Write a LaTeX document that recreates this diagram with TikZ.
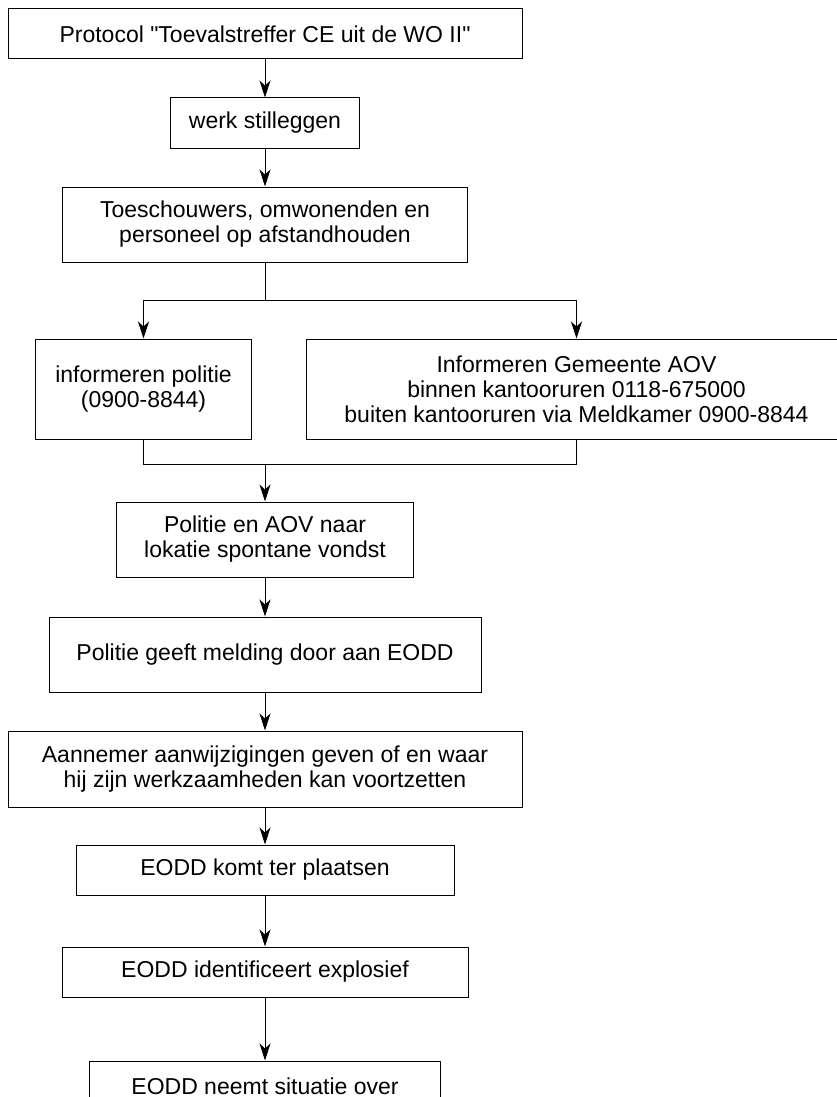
\documentclass[tikz,border=0pt]{standalone}
\usepackage{fontspec}
\setmainfont[Ligatures=TeXOff]{Liberation Sans}
\usetikzlibrary{positioning}
\usetikzlibrary{arrows.meta}

\begin{document}
\begin{tikzpicture}[x=1pt,y=-1pt,
        stap/.style={draw,line width=1pt,align=center,inner sep=0pt,font=\fontsize{23}{25}\selectfont},
        pijl/.style={-{Stealth[length=17pt,width=11pt,inset=5pt]},line width=1pt}]
        \useasboundingbox (0,0) rectangle (836,1097);

        \node[stap,minimum width=514pt,minimum height=50pt] (proto) at (265,34) {Protocol "Toevalstreffer CE uit de WO II"};
        \node[stap,minimum width=189pt,minimum height=50pt,below=38pt of proto] (stil) {werk stilleggen};
        \node[stap,minimum width=405pt,minimum height=75pt,below=38pt of stil] (toesch) {Toeschouwers, omwonenden en\\personeel op afstandhouden};

        \draw[pijl] (proto) -- (stil);
        \draw[pijl] (stil) -- (toesch);

        \node[stap,minimum width=216pt,minimum height=100pt,below=76pt of toesch,xshift=-121.5pt] (politie) {informeren politie\\(0900-8844)};
        \node[stap,minimum width=540pt,minimum height=100pt,right=54pt of politie] (gemeente) {Informeren Gemeente AOV\\binnen kantooruren 0118-675000\\buiten kantooruren via Meldkamer 0900-8844};

        \draw (toesch.south) -- ++(0,38) coordinate (splits);
        \draw[pijl] (splits) -| (politie);
        \draw[pijl] (splits) -| (gemeente);

        \node[stap,minimum width=297pt,minimum height=75pt,below=239pt of toesch] (lokatie) {Politie en AOV naar\\lokatie spontane vondst};
        \path (lokatie.north) ++(0,-37) coordinate (samen);

        \draw (politie) |- (samen);
        \draw (gemeente) |- (samen);
        \draw[pijl] (samen) -- (lokatie);

        \node[stap,minimum width=432pt,minimum height=75pt,below=39pt of lokatie] (melding) {Politie geeft melding door aan EODD};
        \node[stap,minimum width=514pt,minimum height=76pt,below=38pt of melding] (aannemer) {Aannemer aanwijzigingen geven of en waar\\hij zijn werkzaamheden kan voortzetten};
        \node[stap,minimum width=378pt,minimum height=50pt,below=37pt of aannemer] (komt) {EODD komt ter plaatsen};
        \node[stap,minimum width=406pt,minimum height=50pt,below=51pt of komt] (ident) {EODD identificeert explosief};
        \node[stap,minimum width=351pt,minimum height=50pt,below=63pt of ident] (over) {EODD neemt situatie over};

        \draw[pijl] (lokatie) -- (melding);
        \draw[pijl] (melding) -- (aannemer);
        \draw[pijl] (aannemer) -- (komt);
        \draw[pijl] (komt) -- (ident);
        \draw[pijl] (ident) -- (over);

\end{tikzpicture}
\end{document}
